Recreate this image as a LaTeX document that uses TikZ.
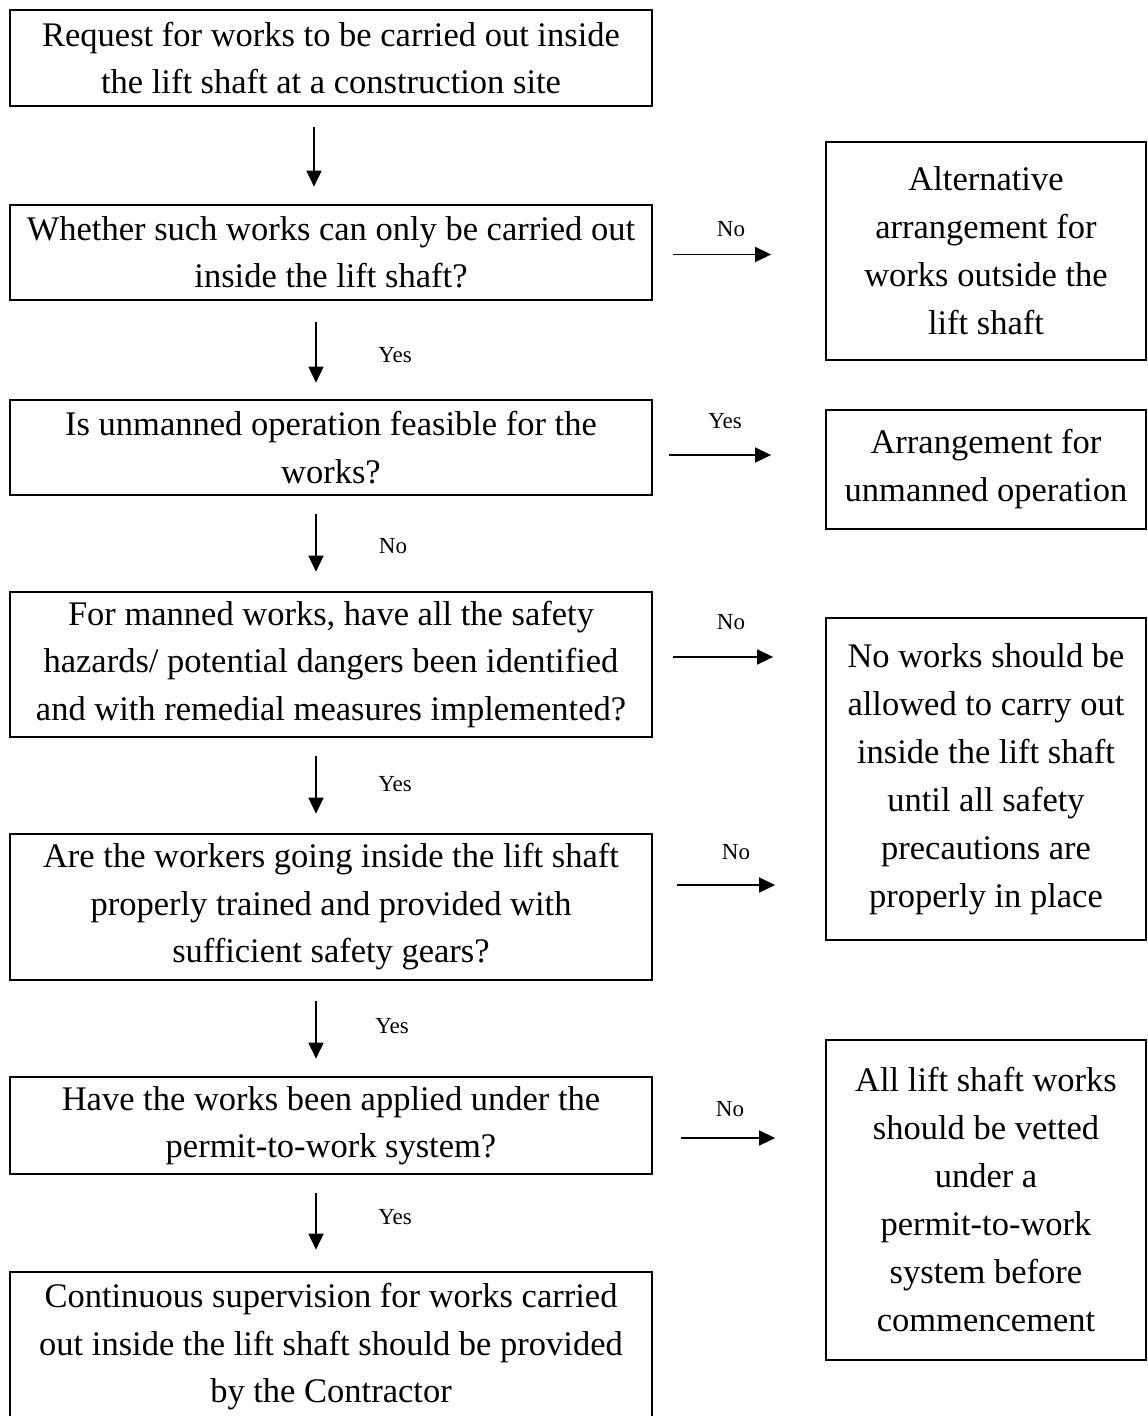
\documentclass[tikz,border=0pt]{standalone}
\usepackage{fontspec}
\setmainfont{Liberation Serif}
\usetikzlibrary{arrows.meta}
\begin{document}
\begin{tikzpicture}[x=1pt,y=-1pt,
  mainbox/.style={draw, line width=2.6pt, align=center, inner sep=0pt,
    minimum width=642pt, font=\fontsize{34.5}{47.5}\selectfont},
  sidebox/.style={draw, line width=1.8pt, align=center, inner sep=0pt,
    minimum width=320pt, font=\fontsize{34.5}{48}\selectfont},
  arr/.style={line width=1.6pt, -{Triangle[length=16pt,width=15pt]}},
  lbl/.style={inner sep=0pt, font=\fontsize{23}{26}\selectfont}]
\path[use as bounding box, clip] (0,0) rectangle (1148,1416);

% main column
\node[mainbox, minimum height=96pt] (b1) at (331,58)
  {Request for works to be carried out inside\\the lift shaft at a construction site};
\node[mainbox, minimum height=95pt] (b2) at (331,252.5)
  {Whether such works can only be carried out\\inside the lift shaft?};
\node[mainbox, minimum height=95pt] (b3) at (331,447.5)
  {Is unmanned operation feasible for the\\works?};
\node[mainbox, minimum height=145pt] (b4) at (331,664.5)
  {For manned works, have all the safety\\hazards/ potential dangers been identified\\and with remedial measures implemented?};
\node[mainbox, minimum height=146pt] (b5) at (331,907)
  {Are the workers going inside the lift shaft\\properly trained and provided with\\sufficient safety gears?};
\node[mainbox, minimum height=97pt] (b6) at (331,1125.5)
  {Have the works been applied under the\\permit-to-work system?};
\node[mainbox, minimum height=150pt] (b7) at (331,1347)
  {Continuous supervision for works carried\\out inside the lift shaft should be provided\\by the Contractor};

% side column
\node[sidebox, minimum height=218pt] (sa) at (986,251)
  {Alternative\\arrangement for\\works outside the\\lift shaft};
\node[sidebox, minimum height=119pt] (sb) at (986,469.5)
  {Arrangement for\\unmanned operation};
\node[sidebox, minimum height=322pt] (sc) at (986,779)
  {No works should be\\allowed to carry out\\inside the lift shaft\\until all safety\\precautions are\\properly in place};
\node[sidebox, minimum height=320pt] (sd) at (986,1200)
  {All lift shaft works\\should be vetted\\under a\\permit-to-work\\system before\\commencement};

% vertical connectors
\draw[arr, shorten <=20pt, shorten >=17pt] ([xshift=-17pt]b1.south) -- ([xshift=-17pt]b2.north);
\draw[arr, shorten <=21pt, shorten >=16pt] ([xshift=-15pt]b2.south) -- ([xshift=-15pt]b3.north);
\draw[arr, shorten <=18pt, shorten >=19pt] ([xshift=-15pt]b3.south) -- ([xshift=-15pt]b4.north);
\draw[arr, shorten <=18pt, shorten >=19pt] ([xshift=-15pt]b4.south) -- ([xshift=-15pt]b5.north);
\draw[arr, shorten <=20pt, shorten >=17pt] ([xshift=-15pt]b5.south) -- ([xshift=-15pt]b6.north);
\draw[arr, shorten <=18pt, shorten >=21pt] ([xshift=-15pt]b6.south) -- ([xshift=-15pt]b7.north);

\node[lbl] (y1) at (395,355) {Yes};
\node[lbl] (n2) at (393,546) {No};
\node[lbl] (y3) at (395,784) {Yes};
\node[lbl] (y4) at (392,1026) {Yes};
\node[lbl] (y5) at (395,1217) {Yes};

% horizontal connectors
\draw[arr, shorten <=20pt, shorten >=54pt] ([yshift=-2pt]b2.east) -- ([yshift=-2pt]b2.east -| sa.west);
\draw[arr, shorten <=16pt, shorten >=54pt] ([yshift=-7.5pt]b3.east) -- ([yshift=-7.5pt]b3.east -| sb.west);
\draw[arr, shorten <=20pt, shorten >=52pt] ([yshift=7.5pt]b4.east) -- ([yshift=7.5pt]b4.east -| sc.west);
\draw[arr, shorten <=24pt, shorten >=50pt] ([yshift=22pt]b5.east) -- ([yshift=22pt]b5.east -| sc.west);
\draw[arr, shorten <=28pt, shorten >=50pt] ([yshift=-12.5pt]b6.east) -- ([yshift=-12.5pt]b6.east -| sd.west);

\node[lbl] (n1) at (731,229) {No};
\node[lbl] (y2) at (725,421) {Yes};
\node[lbl] (n3) at (731,622) {No};
\node[lbl] (n4) at (736,852) {No};
\node[lbl] (n5) at (730,1109) {No};
\end{tikzpicture}
\end{document}
